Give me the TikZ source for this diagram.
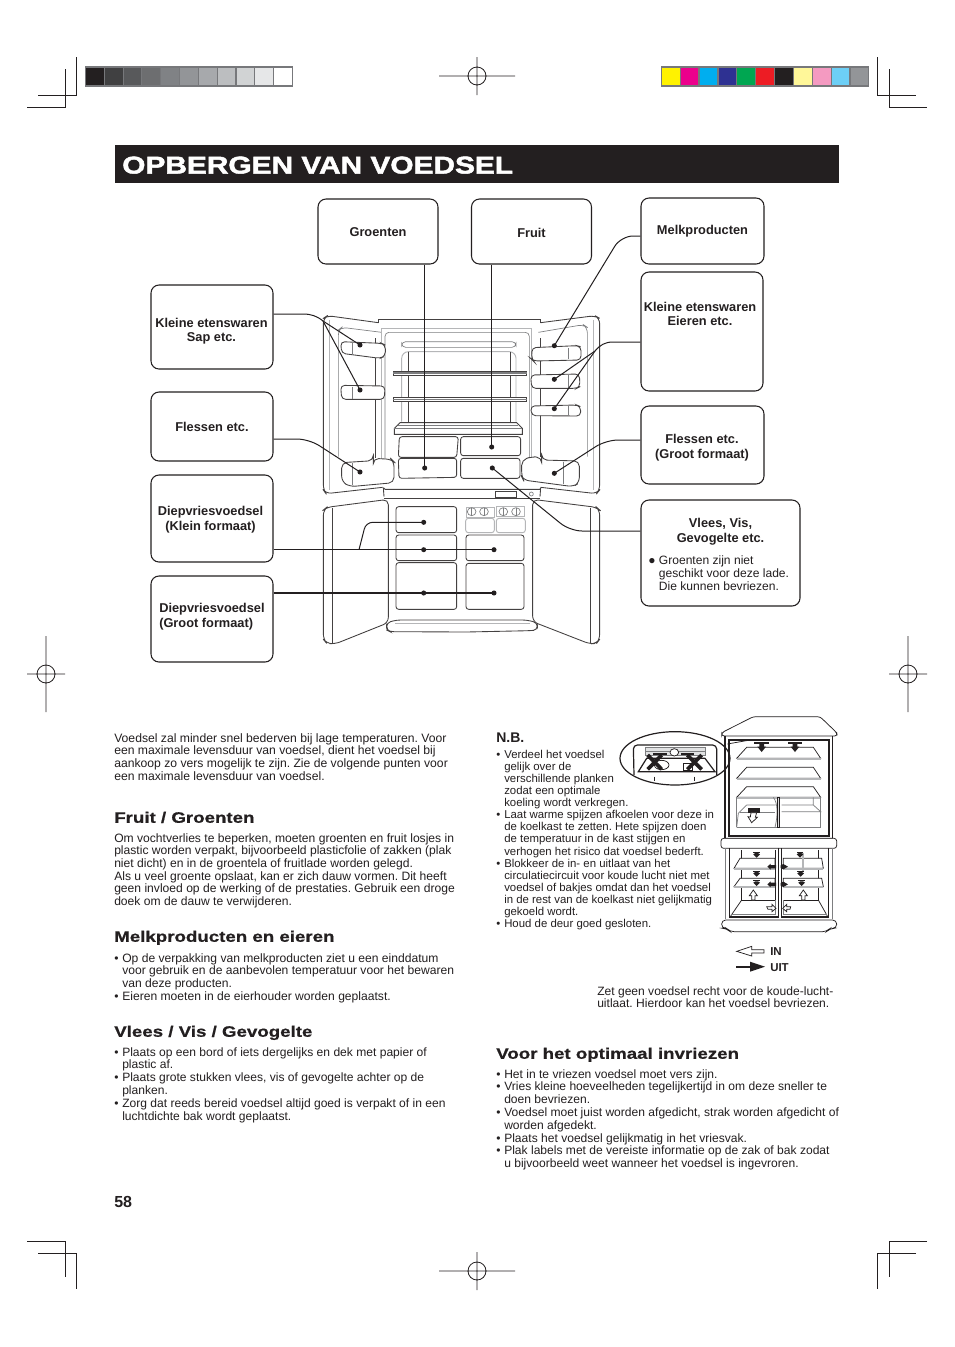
\documentclass[tikz,border=0pt]{standalone}
\usepackage{fontspec}
\setmainfont{Liberation Sans}
\definecolor{ink}{HTML}{231F20}
\definecolor{barframe}{HTML}{77787B}
\definecolor{lgray}{HTML}{B5B6B8}
\definecolor{mgray}{HTML}{7D7E80}
\newcommand\bl{\makebox[6pt][l]{•}}
\newcommand\ind{\hspace*{6pt}}
\newfontface\hfont[FakeStretch=1.23,FakeBold=0.7]{Liberation Sans Bold}
\newfontface\tfont[FakeStretch=1.23,FakeBold=2]{Liberation Sans Bold}
\tikzset{
 crop/.style={line width=0.7pt,draw=ink},
 cbox/.style={draw=ink,line width=0.8pt,rounded corners=6pt,align=center,font=\fontsize{9.6pt}{10.8pt}\selectfont\bfseries,text=ink,inner sep=0pt},
 lab/.style={align=center,font=\fontsize{9.6pt}{10.8pt}\selectfont\bfseries,text=ink,inner sep=0pt},
 body/.style={anchor=north west,align=left,inner sep=0pt,text=ink,font=\fontsize{9.08pt}{9.5pt}\selectfont\frenchspacing},
 loose/.style={font=\fontsize{9.05pt}{9.62pt}\selectfont\frenchspacing},
 head/.style={anchor=north west,inner sep=0pt,text=ink,font=\fontsize{11.4pt}{13pt}\hfont},
 dotn/.style={circle,fill=ink,inner sep=0pt,minimum size=3.8pt},
 conn/.style={draw=ink,line width=0.75pt,rounded corners=9pt},
 curveconn/.style={draw=ink,line width=0.75pt},
 fr/.style={draw=ink!85,line width=0.65pt},
 frthin/.style={draw=mgray,line width=0.5pt},
 frl/.style={draw=lgray,line width=0.7pt},
 mini/.style={draw=ink,line width=0.55pt},
 minig/.style={draw=mgray,line width=0.55pt},
 minithick/.style={draw=ink,line width=0.9pt},
 band/.style={draw=lgray,line width=1.5pt},
 reg/.style={draw=ink,line width=0.6pt},
}
\begin{document}
\begin{tikzpicture}[x=0.75pt,y=-0.75pt]
\useasboundingbox (0,0) rectangle (954,1347);
\fill[white] (0,0) rectangle (954,1347);
% crop marks
\draw[crop] (76,57)--(76,95)--(38,95);
\draw[crop] (65,69)--(65,107)--(27,107);
\draw[crop] (877,57)--(877,95)--(916,95);
\draw[crop] (889,69)--(889,107)--(927,107);
\draw[crop] (27,1241)--(65,1241)--(65,1277);
\draw[crop] (38,1253)--(76,1253)--(76,1289);
\draw[crop] (927,1241)--(889,1241)--(889,1277);
\draw[crop] (916,1253)--(877,1253)--(877,1289);
% registration
\draw[reg] (477,76) circle[radius=9] (439,76)--(515,76) (477,57)--(477,95);
\draw[reg] (477,1271) circle[radius=9] (439,1271)--(515,1271) (477,1252)--(477,1290);
\draw[reg] (46,674) circle[radius=9] (27,674)--(65,674) (46,636)--(46,712);
\draw[reg] (908,674) circle[radius=9] (889,674)--(927,674) (908,636)--(908,712);
% colour bars
\fill[barframe] (85,66) rectangle (293,86.7);
\foreach \c [count=\i from 0] in {231F20,404041,58595B,6D6E70,808285,939598,A7A9AC,BCBEC0,D1D3D4,E6E7E8,FFFFFF}{
 \definecolor{cc}{HTML}{\c}
 \fill[cc] ({86+\i*18.82},68) rectangle ({103.7+\i*18.82},85);
}
\fill[barframe] (661,66) rectangle (869,86.7);
\foreach \c [count=\i from 0] in {FFF200,EC008C,00AEEF,2E3192,00A651,ED1C24,231F20,FFF799,F49AC1,6DCFF6,939598}{
 \definecolor{cc}{HTML}{\c}
 \fill[cc] ({662+\i*18.87},68) rectangle ({679.6+\i*18.87},85);
}
% title
\fill[ink] (115,145) rectangle (839,183);
\node[anchor=base west,inner sep=0pt,text=white,font=\fontsize{18.2pt}{20pt}\tfont] (title) at (122,173.5) {OPBERGEN VAN VOEDSEL};

% ---------- large fridge, upper
\begin{scope}[shift={(300,300)},x=0.25pt,y=-0.25pt]
\draw[fr,rounded corners=4pt] (235,68)--(82,47)--(70,55)--(70,570)--(78,581)--(248,562);
\draw[fr,rounded corners=4pt] (722,68)--(885,47)--(899,55)--(899,570)--(890,581)--(722,562);
\draw[fr] (235,68)--(235,58)--(722,58)--(722,68);
\draw[frthin,rounded corners=4pt] (245,97)--(125,82)--(115,90)--(115,470);
\draw[frthin,rounded corners=4pt] (715,97)--(850,74)--(862,82)--(862,470);
\draw[frl] (88,60)--(88,570) (880,60)--(880,570);
\draw[frl] (245,85)--(695,85)--(695,540) (245,85)--(245,540);
\draw[frthin,rounded corners=3pt] (255,540)--(255,97)--(688,97)--(688,540);
\draw[frthin,rounded corners=3pt] (305,125) rectangle (648,142);
\draw[frl,rounded corners=5pt] (305,365)--(305,155)--(648,155)--(648,365);
\draw[fr] (325,155)--(325,365) (630,155)--(630,365);
\draw[fr] (226,115)--(226,475) (722,115)--(722,470);
% shelves
\foreach \yy in {213,292}{
 \draw[fr,fill=white] (280,\yy) rectangle (680,\yy+13);
 \draw[draw=mgray,line width=1pt] (280,\yy+6)--(680,\yy+6);
}
\draw[fr,fill=white] (300,368)--(650,368)--(667,385)--(667,403)--(283,403)--(283,385)--cycle;
\draw[frthin] (283,385)--(667,385) (295,375)--(655,375);
% drawers
\draw[fr,rounded corners=2pt] (298,410)--(475,410)--(470,472)--(295,472)--cycle;
\draw[fr,rounded corners=2pt] (295,475)--(470,475)--(470,532)--(297,535)--cycle;
\draw[fr,rounded corners=2pt] (482,410) rectangle (662,467);
\draw[fr,rounded corners=2pt] (482,475) rectangle (660,535);
% door bins
\draw[fr,fill=white,rounded corners=3pt] (122,125)--(245,130)--(256,135)--(256,168)--(240,175)--(125,160)--cycle;
\draw[frthin] (157,130)--(157,165);
\draw[fr,fill=white,rounded corners=3pt] (122,256)--(255,258)--(253,298)--(125,298)--cycle;
\draw[frthin] (157,260)--(157,296);
\draw[fr,fill=white,rounded corners=4pt] (125,488)--(220,482)--(220,475)--(275,478)--(282,485)--(282,548)--(150,560)--(125,545)--cycle;
\draw[frthin] (157,490)--(157,556);
\draw[fr,fill=white,rounded corners=3pt] (696,143)--(830,137)--(843,140)--(843,180)--(700,183)--(695,178)--cycle;
\draw[draw=mgray,line width=1.1pt] (806,145)--(806,178);
\draw[fr,fill=white,rounded corners=3pt] (692,225)--(838,222)--(840,260)--(830,265)--(695,265)--cycle;
\draw[frthin] (806,225)--(806,263);
\draw[fr,fill=white,rounded corners=3pt] (692,318)--(830,315)--(842,320)--(842,348)--(695,347)--cycle;
\draw[frthin] (806,318)--(806,346);
\draw[fr,fill=white,rounded corners=4pt] (665,480)--(695,470)--(725,472)--(725,480)--(838,483)--(838,548)--(820,560)--(670,540)--(665,530)--cycle;
\draw[frthin] (790,485)--(790,553);
\end{scope}
% ---------- large fridge, lower
\begin{scope}[shift={(300,480)},x=0.25pt,y=-0.25pt]
\draw[fr] (250,23)--(255,28)--(720,28)--(722,23) (250,23)--(252,50) (722,23)--(720,50);
\draw[fr] (587,35) rectangle (650,52);
\draw[frthin] (694,42) circle[radius=6];
\draw[fr] (252,55)--(720,55);
\draw[fr,rounded corners=4pt] (265,58)--(80,82)--(70,90)--(70,478)--(80,490)--(105,492)--(265,428)--cycle;
\draw[fr,rounded corners=4pt] (698,58)--(890,82)--(899,90)--(899,478)--(890,490)--(870,492)--(698,425)--cycle;
\draw[fr] (97,85)--(97,490) (872,85)--(872,490);
\draw[fr,fill=white,rounded corners=3pt] (260,428)--(290,420)--(680,420)--(712,428)--(712,450)--(690,452)--(500,456)--(270,455)--(260,450)--cycle;
\draw[frl] (285,430)--(690,430);
\foreach \a/\b/\c/\d in {288/80/470/158,288/165/470/242,288/248/470/388,498/165/672/242,498/250/672/388}{
 \draw[fr,rounded corners=2pt] (\a,\b) rectangle (\c,\d);
}
\draw[frl,rounded corners=2pt] (497,115) rectangle (583,158);
\draw[frl,rounded corners=2pt] (589,115) rectangle (676,158);
\draw[frl] (498,82) rectangle (582,112) (590,78) rectangle (673,110);
\foreach \xx in {515,552,610,648}{
 \draw[frthin] (\xx,95) ellipse[x radius=13,y radius=12];
 \draw[frthin] (\xx,83)--(\xx,107);
}
\end{scope}

% ---------- dots
\node[dotn] (d1) at (360,345) {};
\node[dotn] (d2) at (360,390) {};
\node[dotn] (d3) at (360,472) {};
\node[dotn] (d4) at (424.7,468) {};
\node[dotn] (d5) at (491.7,447) {};
\node[dotn] (d6) at (492.3,468) {};
\node[dotn] (d7) at (554.3,345.7) {};
\node[dotn] (d8) at (554.3,379.3) {};
\node[dotn] (d9) at (554.3,408.7) {};
\node[dotn] (d10) at (554.3,473.3) {};
\node[dotn] (d11) at (423.7,522.3) {};
\node[dotn] (d12) at (423.7,549.7) {};
\node[dotn] (d13) at (494,549.7) {};
\node[dotn] (d14) at (423.7,593) {};
\node[dotn] (d15) at (494,593) {};
\coordinate (forkl) at (323,321);
\coordinate (forkr) at (595,351);

% ---------- boxes
\node[cbox,minimum width=120*0.75pt,minimum height=65*0.75pt] (groenten) at (378,231.5) {};
\node[lab] (groentenl) at (378,232.5) {Groenten};
\node[cbox,minimum width=120*0.75pt,minimum height=65*0.75pt] (fruit) at (531.5,231.5) {};
\node[lab] (fruitl) at (531.5,232.5) {Fruit};
\node[cbox,minimum width=123*0.75pt,minimum height=66*0.75pt] (melk) at (702.5,231) {};
\node[lab] (melkl) at (702.5,231.5) {Melkproducten};
\node[cbox,minimum width=122*0.75pt,minimum height=119*0.75pt] (kleiner) at (702,331.5) {};
\node[lab] (kleinerl) at (700,313.8) {Kleine etenswaren\\Eieren etc.};
\node[cbox,minimum width=123*0.75pt,minimum height=78*0.75pt] (flesr) at (702.5,445) {};
\node[lab] (flesrl) at (702,447.5) {Flessen etc.\\(Groot formaat)};
\node[cbox,minimum width=159*0.75pt,minimum height=106*0.75pt] (vlees) at (720.5,553) {};
\node[lab,font=\fontsize{9.6pt}{11.6pt}\selectfont\bfseries] (vleesl) at (720.5,531.5) {Vlees, Vis,\\Gevogelte etc.};
\node[anchor=north west,align=left,inner sep=0pt,text=ink,font=\fontsize{9.05pt}{9.75pt}\selectfont\frenchspacing] (vleest) at (648,555) {\makebox[8pt][l]{●}Groenten zijn niet\\\hspace*{8pt}geschikt voor deze lade.\\\hspace*{8pt}Die kunnen bevriezen.};
\node[cbox,minimum width=122*0.75pt,minimum height=84*0.75pt] (kleinl) at (212,327) {};
\node[lab] (kleinll) at (211.5,331) {Kleine etenswaren\\Sap etc.};
\node[cbox,minimum width=122*0.75pt,minimum height=69*0.75pt] (flesl) at (212,426.5) {Flessen etc.};
\node[cbox,minimum width=122*0.75pt,minimum height=87*0.75pt] (diepk) at (212,518.5) {};
\node[lab] (diepkl) at (210.5,519.5) {Diepvriesvoedsel\\(Klein formaat)};
\node[cbox,minimum width=122*0.75pt,minimum height=86*0.75pt] (diepg) at (212,619) {};
\node[lab,align=left,anchor=west] (diepgl) at (159,616.5) {Diepvriesvoedsel\\(Groot formaat)};

% ---------- connectors
\draw[conn] (groenten.south -| d4) -- (d4.center);
\draw[conn] (fruit.south -| d5) -- (d5.center);
\draw[conn] (melk.west |- 0,236) -- (621,236) -- (d7.center);
\draw[curveconn] (kleiner.west |- 0,342) -- (613,342) .. controls (605,342) and (600,345) .. (forkr) -- (d8.center);
\draw[curveconn] (forkr) -- (d9.center);
\draw[conn] (flesr.west |- 0,440) -- (606,440) -- (d10.center);
\draw[conn] (vlees.west |- 0,531) -- (570,531) -- (d6.center);
\draw[curveconn] (kleinl.east |- 0,314) -- (303,314) .. controls (311,314) and (317,316) .. (forkl) -- (d1.center);
\draw[curveconn] (forkl) -- (d2.center);
\draw[conn] (flesl.east |- 0,439) -- (309,439) -- (d3.center);
\draw[conn] (diepk.east |- d12) -- (d12.center) -- (d13.center);
\draw[conn,rounded corners=5pt] (359,549.7) -- (366,522.3) -- (d11.center);
\draw[conn,line width=1.2pt] (diepg.east |- d14) -- (d14.center) -- (d15.center);

% ---------- left text
\node[body,font=\fontsize{9.13pt}{9.5pt}\selectfont\frenchspacing] (t1) at (114,733) {Voedsel zal minder snel bederven bij lage temperaturen. Voor\\een maximale levensduur van voedsel, dient het voedsel bij\\aankoop zo vers mogelijk te zijn. Zie de volgende punten voor\\een maximale levensduur van voedsel.};
\node[head] (h1) at (114,811.5) {Fruit / Groenten};
\node[body] (t2) at (114,833) {Om vochtverlies te beperken, moeten groenten en fruit losjes in\\plastic worden verpakt, bijvoorbeeld plasticfolie of zakken (plak\\niet dicht) en in de groentela of fruitlade worden gelegd.\\Als u veel groente opslaat, kan er zich dauw vormen. Dit heeft\\geen invloed op de werking of de prestaties. Gebruik een droge\\doek om de dauw te verwijderen.};
\node[head] (h2) at (114,930.5) {Melkproducten en eieren};
\node[body] (t3) at (114,953) {\bl Op de verpakking van melkproducten ziet u een einddatum\\\ind voor gebruik en de aanbevolen temperatuur voor het bewaren\\\ind van deze producten.\\\bl Eieren moeten in de eierhouder worden geplaatst.};
\node[head] (h3) at (114,1025.5) {Vlees / Vis / Gevogelte};
\node[body,loose] (t4) at (114,1047) {\bl Plaats op een bord of iets dergelijks en dek met papier of\\\ind plastic af.\\\bl Plaats grote stukken vlees, vis of gevogelte achter op de\\\ind planken.\\\bl Zorg dat reeds bereid voedsel altijd goed is verpakt of in een\\\ind luchtdichte bak wordt geplaatst.};
\node[anchor=base west,inner sep=0pt,text=ink,font=\fontsize{12pt}{14pt}\selectfont\bfseries] (pg) at (114,1207) {58};

% ---------- right text
\node[anchor=base west,inner sep=0pt,text=ink,font=\fontsize{10.5pt}{12pt}\selectfont\bfseries] (nb) at (496,742) {N.B.};
\node[body,font=\fontsize{8.55pt}{9.1pt}\selectfont\frenchspacing] (t5) at (496,749.5) {\bl Verdeel het voedsel\\\ind gelijk over de\\\ind verschillende planken\\\ind zodat een optimale\\\ind koeling wordt verkregen.\\\bl Laat warme spijzen afkoelen voor deze in\\\ind de koelkast te zetten. Hete spijzen doen\\\ind de temperatuur in de kast stijgen en\\\ind verhogen het risico dat voedsel bederft.\\\bl Blokkeer de in- en uitlaat van het\\\ind circulatiecircuit voor koude lucht niet met\\\ind voedsel of bakjes omdat dan het voedsel\\\ind in de rest van de koelkast niet gelijkmatig\\\ind gekoeld wordt.\\\bl Houd de deur goed gesloten.};
\node[body,loose] (t6) at (597,986) {Zet geen voedsel recht voor de koude-lucht-\\uitlaat. Hierdoor kan het voedsel bevriezen.};
\node[head] (h4) at (496,1047.5) {Voor het optimaal invriezen};
\node[body,loose] (t7) at (496,1069) {\bl Het in te vriezen voedsel moet vers zijn.\\\bl Vries kleine hoeveelheden tegelijkertijd in om deze sneller te\\\ind doen bevriezen.\\\bl Voedsel moet juist worden afgedicht, strak worden afgedicht of\\\ind worden afgedekt.\\\bl Plaats het voedsel gelijkmatig in het vriesvak.\\\bl Plak labels met de vereiste informatie op de zak of bak zodat\\\ind u bijvoorbeeld weet wanneer het voedsel is ingevroren.};
\node[anchor=base west,inner sep=0pt,text=ink,font=\fontsize{8.6pt}{10pt}\selectfont\bfseries] (in) at (770,955) {IN};
\node[anchor=base west,inner sep=0pt,text=ink,font=\fontsize{8.6pt}{10pt}\selectfont\bfseries] (uit) at (770,971) {UIT};

% ---------- small fridge
\begin{scope}[shift={(610,710)},x=0.25pt,y=-0.25pt]
% inset
\draw[minithick,fill=white] (195,145) ellipse[x radius=165,y radius=80];
\draw[minithick,rounded corners=3pt] (72,195)--(70,105)--(320,105)--(320,195);
\draw[minithick] (85,185)--(110,145)--(285,145)--(315,185)--cycle;
\draw[minig,fill=lgray!40] (105,113)--(285,113)--(285,137)--(105,137)--cycle;
\draw[minig] (105,125)--(285,125);
\draw[mini] (133,200)--(133,212) (253,200)--(253,212);
\draw[mini,fill=white] (193,127) ellipse[x radius=13,y radius=11];
\draw[mini,fill=white] (155,165) ellipse[x radius=22,y radius=14];
\draw[mini,fill=white] (220,160) rectangle (248,182);
\draw[ink,line width=2.8pt] (113,135)--(155,178) (155,135)--(113,178);
\draw[ink,line width=2.8pt] (232,135)--(275,178) (275,135)--(232,178);
\fill[ink] (130,130) rectangle (170,136);
\fill[ink] (213,130) rectangle (253,136);
\draw[mini] (352,102)--(420,90);
% cabinet
\draw[mini,fill=white,rounded corners=2pt] (430,20)--(630,20)--(680,68)--(682,78)--(335,78)--(335,68)--cycle;
\draw[minithick] (345,78)--(345,385)--(668,385)--(668,78);
\draw[minithick] (357,90) rectangle (657,378);
\foreach \yt/\yb in {112/145,172/205,230/262}{
 \draw[mini,fill=white] (410,\yt)--(610,\yt)--(632,\yb)--(380,\yb)--cycle;
 \draw[band] (380,\yb+2)--(632,\yb+2);
}
\draw[minig] (380,352)--(380,262) (632,352)--(632,262) (380,352)--(632,352);
\draw[minig] (410,285)--(385,310)--(380,352) (410,285)--(497,285) (490,262) .. controls (505,280) and (503,320) .. (495,352);
\draw[minig] (515,285)--(610,285)--(632,305)--(515,305) (610,285)--(610,262);
\draw[minig] (390,308)--(495,308);
\draw[mini,fill=lgray!50] (502,262) rectangle (509,352);
\draw[mini,fill=white,rounded corners=2pt] (333,385) rectangle (680,415);
\draw[minig] (345,415)--(345,628) (668,415)--(668,628);
\draw[minithick] (358,415)--(358,621)--(505,621)--(505,415);
\draw[minithick] (515,415)--(515,621)--(655,621)--(655,415);
\draw[mini] (395,420)--(395,570)--(495,570)--(495,420);
\draw[mini] (520,570)--(625,570)--(625,420);
\draw[mini] (395,570)--(362,618) (625,570)--(652,618);
\draw[minig] (362,612)--(495,612)--(495,570) (520,612)--(652,612) (520,570)--(520,612);
\foreach \yt/\yb in {445/475,505/530}{
 \draw[mini,fill=white] (390,\yt)--(495,\yt)--(495,\yb)--(372,\yb)--cycle;
 \draw[band] (372,\yb+2)--(495,\yb+2);
 \draw[mini,fill=white] (520,\yt)--(635,\yt)--(640,\yb)--(520,\yb)--cycle;
 \draw[band] (520,\yb+2)--(640,\yb+2);
}
\draw[mini,fill=white,rounded corners=3pt] (335,630)--(680,630)--(680,655)--(660,655)--(650,665)--(360,665)--(350,655)--(335,655)--cycle;
% air marks: out
\foreach \xx in {455,555}{
 \fill[ink] (\xx-22,95) rectangle (\xx+22,101);
 \fill[ink] (\xx-7,101)--(\xx+7,101)--(\xx+7,110)--(\xx+13,110)--(\xx,126)--(\xx-13,110)--(\xx-7,110)--cycle;
}
\fill[ink] (413,295) rectangle (450,308);
\draw[mini,fill=white] (423,308)--(440,308)--(436,322)--(442,322)--(425,338)--(414,320)--(421,321)--cycle;
\draw[band] (578,428)--(578,482);
\foreach \xx/\yy in {440/425,570/425,440/482,572/482,440/510,575/510}{
 \fill[ink] (\xx-10,\yy) rectangle (\xx+10,\yy+4);
 \fill[ink] (\xx-4,\yy+4)--(\xx+4,\yy+4)--(\xx+10,\yy+8)--(\xx,\yy+18)--(\xx-10,\yy+8)--cycle;
}
\foreach \xx/\yy in {490/470,490/523}{
 \fill[ink] (\xx-8,\yy-5)--(\xx+8,\yy-5)--(\xx+8,\yy+5)--(\xx-8,\yy+5)--(\xx-8,\yy+9)--(\xx-18,\yy)--(\xx-8,\yy-9)--cycle;
 \fill[ink] (\xx+30,\yy-8)--(\xx+44,\yy)--(\xx+30,\yy+8)--(\xx+22,\yy+4)--(\xx+22,\yy-4)--cycle;
}
% air marks: in
\foreach \xx in {430,580}{
 \draw[mini,fill=white] (\xx-5,570)--(\xx-5,557)--(\xx-12,557)--(\xx,540)--(\xx+12,557)--(\xx+5,557)--(\xx+5,570)--cycle;
}
\draw[mini,fill=white] (470,590)--(486,590)--(486,583)--(498,595)--(486,605)--(486,598)--(474,598)--cycle;
\draw[mini,fill=white] (542,590)--(530,590)--(530,583)--(518,595)--(530,605)--(530,598)--(540,598)--cycle;
% legend arrows
\draw[mini,fill=white] (380,724)--(425,709)--(425,719)--(462,719)--(462,729)--(425,729)--(425,738)--cycle;
\fill[ink] (378,767) rectangle (420,773);
\fill[ink] (420,755)--(465,770)--(420,785)--cycle;
\end{scope}
\end{tikzpicture}
\end{document}
